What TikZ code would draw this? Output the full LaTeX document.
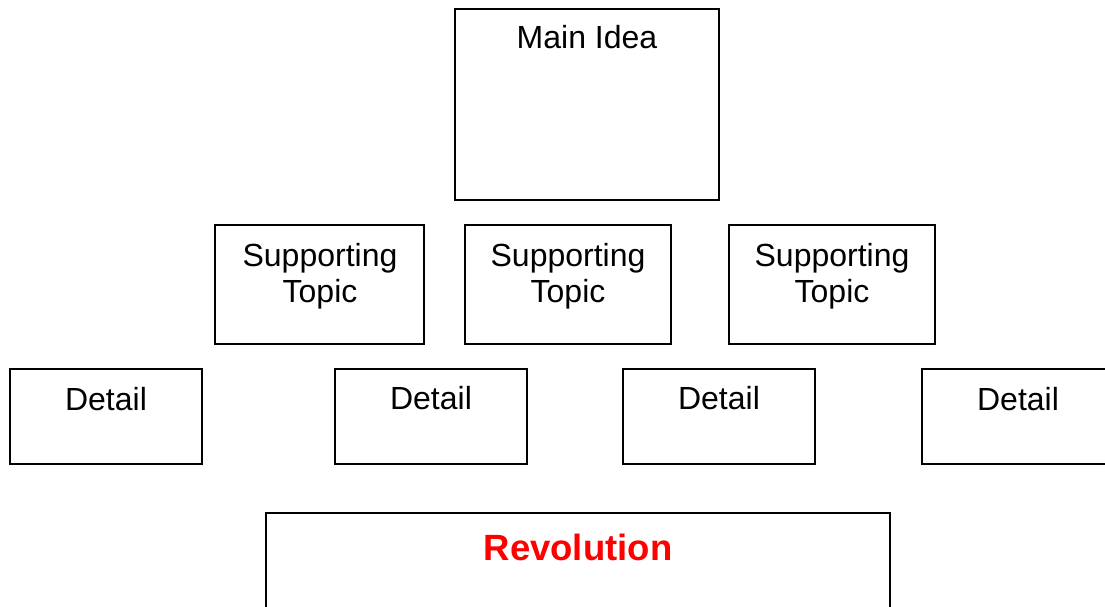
\documentclass[tikz,border=0pt]{standalone}
\usepackage{fontspec}
\setmainfont{Liberation Sans}
\begin{document}
\begin{tikzpicture}[x=1pt,y=-1pt,
  box/.style={draw=black, line width=2pt, fill=white, rectangle, inner sep=0pt, outer sep=0pt, anchor=north west},
  lbl/.style={anchor=base, inner sep=0pt, font=\fontsize{32}{37}\selectfont},
  rev/.style={anchor=base, inner sep=0pt, text=red, font=\fontsize{36.5}{42}\selectfont\bfseries}]
\useasboundingbox (0,0) rectangle (1105,607);
% main idea
\node[box, minimum width=264pt, minimum height=191pt] (main) at (455,9) {};
\node[lbl] (maint) at (587,49) {Main Idea};
% supporting topics
\node[box, minimum width=209pt, minimum height=119pt] (s1) at (215,225) {};
\node[box, minimum width=206pt, minimum height=119pt] (s2) at (465,225) {};
\node[box, minimum width=206pt, minimum height=119pt] (s3) at (729,225) {};
\node[lbl] (s1a) at (320,266) {Supporting};
\node[lbl] (s1b) at (320,302) {Topic};
\node[lbl] (s2a) at (568,266) {Supporting};
\node[lbl] (s2b) at (568,302) {Topic};
\node[lbl] (s3a) at (832,266) {Supporting};
\node[lbl] (s3b) at (832,302) {Topic};
% details
\node[box, minimum width=192pt, minimum height=95pt] (d1) at (10,369) {};
\node[box, minimum width=192pt, minimum height=95pt] (d2) at (335,369) {};
\node[box, minimum width=192pt, minimum height=95pt] (d3) at (623,369) {};
\node[box, minimum width=192pt, minimum height=95pt] (d4) at (922,369) {};
\node[lbl] (d1t) at (106,410) {Detail};
\node[lbl] (d2t) at (431,409) {Detail};
\node[lbl] (d3t) at (719,409) {Detail};
\node[lbl] (d4t) at (1018,410) {Detail};
% revolution
\node[box, minimum width=624pt, minimum height=120pt] (rv) at (266,513) {};
\node[rev] (rvt) at (578,560) {Revolution};
\end{tikzpicture}
\end{document}
